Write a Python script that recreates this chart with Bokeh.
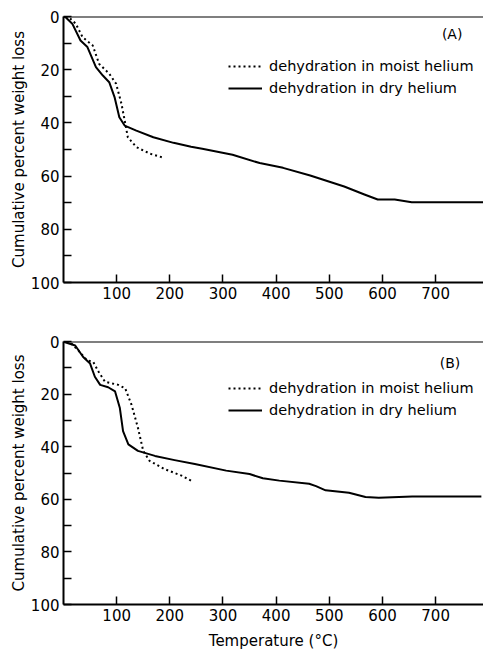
from bokeh.plotting import figure
from bokeh.models import Range1d, FixedTicker, Legend, LegendItem, Label, Span
from bokeh.layouts import column
from bokeh.embed import file_html
from bokeh.resources import INLINE

# Panel A data (temperature in degC, cumulative percent weight loss)
a_dry_t = [0, 4, 16.5, 32, 45, 61, 74, 86, 96, 105, 115, 137, 169, 207, 240, 261, 318, 369, 413, 464, 528, 566, 591, 623, 655, 800]
a_dry_w = [0, 0.3, 2.7, 9, 11.5, 19, 22.2, 24.7, 30.3, 37.9, 41, 42.9, 45.4, 47.5, 49, 49.7, 52, 55.1, 56.9, 59.8, 63.9, 66.9, 68.8, 68.8, 69.8, 69.8]
a_moist_t = [4, 10, 23, 36, 55, 67, 86, 99, 109, 115, 121, 137, 163, 185]
a_moist_w = [0, 0.3, 2.7, 7.8, 10.9, 17.8, 21.5, 25.3, 32.8, 39, 45.4, 49.1, 51.6, 52.9]

# Panel B data
b_dry_t = [0, 3, 22, 37, 50, 59, 69, 84, 97, 106, 112, 122, 140, 172, 209, 247, 306, 350, 375, 406, 462, 475, 493, 537, 568, 593, 656, 786]
b_dry_w = [0, 0.3, 1.5, 5.9, 8.4, 13.4, 16.5, 17.4, 19, 25.3, 34.1, 39.1, 41.6, 43.5, 45.1, 46.6, 49.1, 50.4, 52, 52.9, 54.1, 55, 56.6, 57.5, 59.1, 59.4, 58.9, 58.9]
b_moist_t = [6, 12.5, 28, 44, 56, 66, 78, 103, 116, 128, 140, 150, 162, 190, 222, 240]
b_moist_w = [0, 0.3, 3.4, 7.1, 7.8, 11.5, 15.3, 16.5, 17.8, 24.1, 32.8, 41.6, 45.4, 48.5, 51, 52.9]

x_ticks = [100, 200, 300, 400, 500, 600, 700]
y_ticks = [0, 10, 20, 30, 40, 50, 60, 70, 80, 90, 100]
y_labels = {t: (str(t) if t % 20 == 0 else "") for t in y_ticks}

labels = ["dehydration in moist helium", "dehydration in dry helium"]
FONT = "DejaVu Sans"


def make_panel(dry_t, dry_w, moist_t, moist_w, tag, tag_x, tag_y, height, top, bottom, xlabel):
    p = figure(width=483, height=height, output_backend="svg", toolbar_location=None,
               x_range=Range1d(0, 790), y_range=Range1d(100, 0),
               min_border_left=63, min_border_right=0, min_border_top=top, min_border_bottom=bottom)
    p.outline_line_color = None
    p.xgrid.visible = False
    p.ygrid.visible = False
    p.background_fill_color = "white"
    p.border_fill_color = "white"

    rm = p.line(moist_t, moist_w, line_color="black", line_width=2, line_dash="2 3")
    rd = p.line(dry_t, dry_w, line_color="black", line_width=2, line_join="round")

    p.add_layout(Span(location=0, dimension="width", line_color="black", line_width=2))

    for ax in (p.xaxis[0], p.yaxis[0]):
        ax.axis_line_color = "black"
        ax.axis_line_width = 2
        ax.major_tick_in = 8
        ax.major_tick_out = 0
        ax.major_tick_line_width = 1.5
        ax.minor_tick_line_color = None
        ax.major_label_text_font = FONT
        ax.major_label_text_font_size = "15px"
        ax.major_label_text_color = "black"
        ax.axis_label_text_font = FONT
        ax.axis_label_text_font_size = "15px"
        ax.axis_label_text_font_style = "normal"
        ax.axis_label_text_color = "black"

    p.xaxis[0].ticker = FixedTicker(ticks=x_ticks)
    p.xaxis[0].major_label_standoff = 4
    p.yaxis[0].ticker = FixedTicker(ticks=y_ticks)
    p.yaxis[0].major_label_overrides = y_labels
    p.yaxis[0].major_label_standoff = 4
    p.yaxis[0].axis_label = "Cumulative percent weight loss"
    p.yaxis[0].axis_label_standoff = 0
    if xlabel:
        p.xaxis[0].axis_label = "Temperature (\u00b0C)"
        p.xaxis[0].axis_label_standoff = 8

    legend = Legend(items=[LegendItem(label=labels[0], renderers=[rm]),
                           LegendItem(label=labels[1], renderers=[rd])],
                    location=(165, 184), padding=0, spacing=2, margin=0,
                    glyph_width=34, glyph_height=20, label_height=20, label_standoff=7,
                    label_text_font=FONT, label_text_font_size="14.5px", label_text_color="black",
                    border_line_color=None, background_fill_alpha=0)
    p.add_layout(legend)

    p.add_layout(Label(x=tag_x, y=tag_y, text=tag, text_align="center", text_baseline="middle",
                       text_font=FONT, text_font_size="14px", text_color="black"))
    return p


pa = make_panel(a_dry_t, a_dry_w, a_moist_t, a_moist_w, "(A)", 731, 6.4, 320, 16, 38, False)
pb = make_panel(b_dry_t, b_dry_w, b_moist_t, b_moist_w, "(B)", 727, 8.3, 332, 21, 45, True)

layout = column(pa, pb, spacing=0)
open("out.html", "w").write(file_html(layout, INLINE))
